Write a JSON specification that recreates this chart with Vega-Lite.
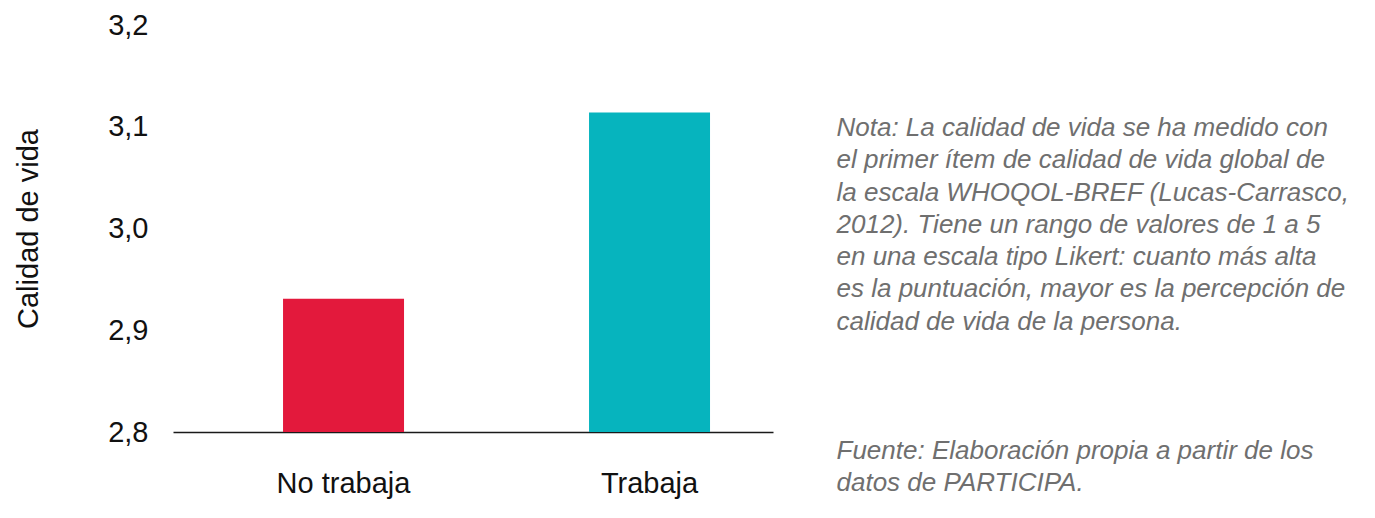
{
  "$schema": "https://vega.github.io/schema/vega-lite/v6.json",
  "background": "white",
  "padding": {"left": 14, "top": 11, "right": 5, "bottom": 5},
  "spacing": 63,
  "config": {
    "view": {"stroke": null},
    "font": "Liberation Sans",
    "axis": {"labelFont": "Liberation Sans", "titleFont": "Liberation Sans"}
  },
  "hconcat": [
    {
      "width": 600,
      "height": 407,
      "data": {"values": [
        {"grupo": "No trabaja", "calidad": 2.931},
        {"grupo": "Trabaja", "calidad": 3.114}
      ]},
      "mark": {"type": "bar"},
      "encoding": {
        "x": {
          "field": "grupo", "type": "nominal", "sort": null,
          "scale": {"paddingInner": 0.6046, "paddingOuter": 0.2827, "align": 0.636},
          "axis": {
            "title": null, "labelAngle": 0, "labelFontSize": 29, "labelColor": "#111111",
            "labelPadding": 37, "ticks": false, "tickSize": 0,
            "domainColor": "#1a1a1a", "domainWidth": 1.5, "grid": false
          }
        },
        "y": {
          "field": "calidad", "type": "quantitative",
          "scale": {"domain": [2.8, 3.2], "zero": false, "nice": false, "clamp": true},
          "axis": {
            "title": "Calidad de vida", "titleFontSize": 29, "titleFontWeight": "normal",
            "titleColor": "#111111", "titlePadding": 64,
            "values": [2.8, 2.9, 3.0, 3.1, 3.2],
            "labelExpr": "replace(format(datum.value, '.1f'), '.', ',')",
            "labelFontSize": 29, "labelColor": "#111111", "labelPadding": 25,
            "ticks": false, "tickSize": 0, "domain": false, "grid": false
          }
        },
        "color": {
          "field": "grupo", "type": "nominal", "legend": null,
          "scale": {"domain": ["No trabaja", "Trabaja"], "range": ["#E3193C", "#06B4BE"]}
        }
      }
    },
    {
      "width": 1,
      "height": 407,
      "data": {"values": [
        {"linea": 0, "texto": "Nota: La calidad de vida se ha medido con"},
        {"linea": 1, "texto": "el primer ítem de calidad de vida global de"},
        {"linea": 2, "texto": "la escala WHOQOL-BREF (Lucas-Carrasco,"},
        {"linea": 3, "texto": "2012). Tiene un rango de valores de 1 a 5"},
        {"linea": 4, "texto": "en una escala tipo Likert: cuanto más alta"},
        {"linea": 5, "texto": "es la puntuación, mayor es la percepción de"},
        {"linea": 6, "texto": "calidad de vida de la persona."},
        {"linea": 10, "texto": "Fuente: Elaboración propia a partir de los"},
        {"linea": 11, "texto": "datos de PARTICIPA."}
      ]},
      "mark": {"type": "text", "align": "left", "baseline": "alphabetic", "fontSize": 26, "fontStyle": "italic", "color": "#6f6f6f", "font": "Liberation Sans"},
      "encoding": {
        "y": {
          "field": "linea", "type": "quantitative",
          "scale": {"domain": [0, 11], "range": [111, 466], "zero": false, "nice": false},
          "axis": null
        },
        "text": {"field": "texto"}
      }
    }
  ]
}
